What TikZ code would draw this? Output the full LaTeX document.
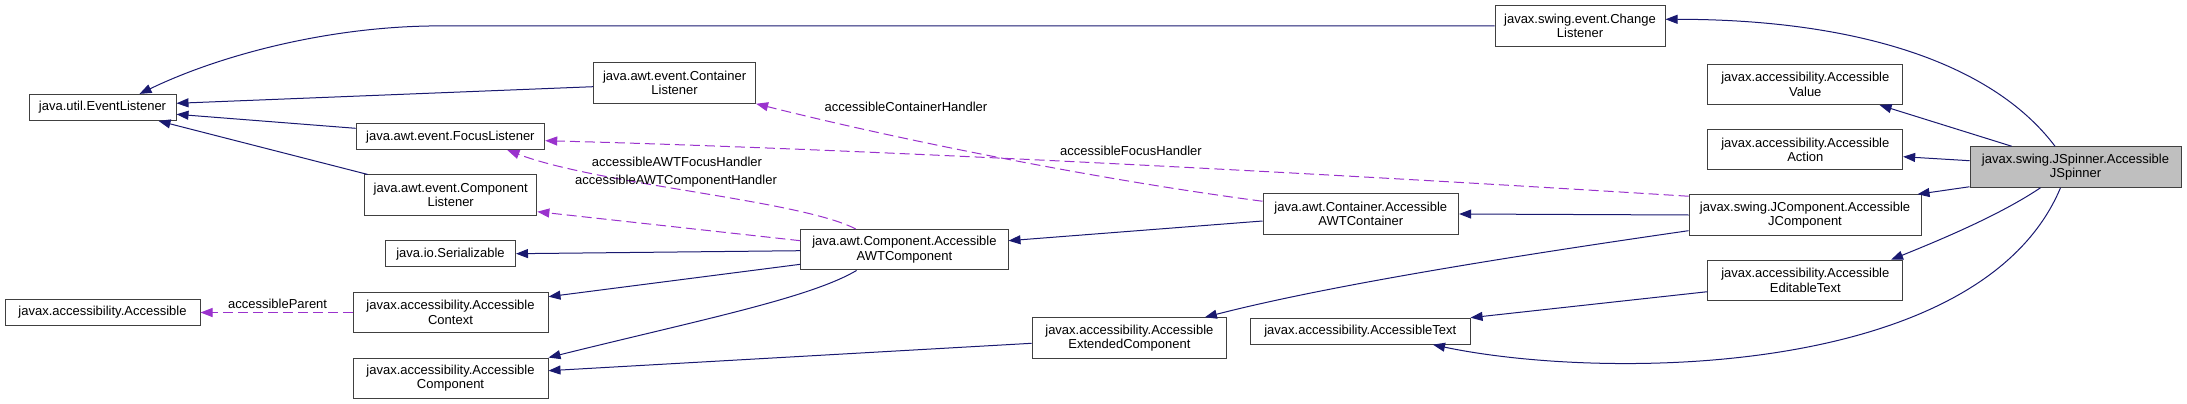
\documentclass[tikz,border=0pt]{standalone}
\usepackage{fontspec}
\setmainfont{Liberation Sans}
\usepackage{xcolor}
\usepackage{tikz}
\usetikzlibrary{arrows.meta}
\definecolor{edgeblue}{RGB}{25,25,112}
\definecolor{edgepurple}{RGB}{154,50,205}
\definecolor{spinnergray}{RGB}{191,191,191}
\definecolor{boxgray}{RGB}{64,64,64}

\begin{document}
\begin{tikzpicture}[x=1pt, y=-1pt, every node/.style={font=\fontsize{13}{14.3}\selectfont},
  cls/.style={rectangle, draw=boxgray, line width=1pt, fill=white, inner sep=0pt, align=center, minimum height=40.5pt},
  one/.style={minimum height=26pt},
  inh/.style={edgeblue, line width=1pt, -{Triangle[length=12pt,width=9pt]}},
  use/.style={edgepurple, line width=1pt, dash pattern=on 10pt off 5pt, -{Triangle[length=12pt,width=9pt]}},
  lbl/.style={inner sep=0pt}]
  \useasboundingbox (0,0) rectangle (2187,404);

  \node[cls, fill=spinnergray, minimum width=211pt] (spinner) at (2075.5,167) {javax.swing.JSpinner.Accessible\\JSpinner};
  \node[cls, minimum width=170pt] (changelis) at (1580,25.9) {javax.swing.event.Change\\Listener};
  \node[cls, minimum width=194.7pt] (accvalue) at (1805.3,84.3) {javax.accessibility.Accessible\\Value};
  \node[cls, minimum width=194.7pt] (accaction) at (1805.3,149.7) {javax.accessibility.Accessible\\Action};
  \node[cls, minimum width=232pt] (jcomp) at (1805,215) {javax.swing.JComponent.Accessible\\JComponent};
  \node[cls, minimum width=194.7pt] (edittext) at (1805.3,280.5) {javax.accessibility.Accessible\\EditableText};
  \node[cls, minimum width=195.6pt] (awtcont) at (1360.8,214) {java.awt.Container.Accessible\\AWTContainer};
  \node[cls, one, minimum width=219.5pt] (acctext) at (1360.3,331.2) {javax.accessibility.AccessibleText};
  \node[cls, minimum width=194.7pt] (extcomp) at (1129.4,338) {javax.accessibility.Accessible\\ExtendedComponent};
  \node[cls, minimum width=207.2pt] (awtcomp) at (904.4,249.7) {java.awt.Component.Accessible\\AWTComponent};
  \node[cls, minimum width=162pt] (contlis) at (674.6,83) {java.awt.event.Container\\Listener};
  \node[cls, one, minimum width=188.6pt] (focuslis) at (450.4,136.7) {java.awt.event.FocusListener};
  \node[cls, minimum width=172.3pt] (complis) at (450.7,195.2) {java.awt.event.Component\\Listener};
  \node[cls, one, minimum width=130pt] (serial) at (450.5,253.7) {java.io.Serializable};
  \node[cls, minimum width=195pt] (acccontext) at (450.5,312.5) {javax.accessibility.Accessible\\Context};
  \node[cls, minimum width=195pt] (acccomp) at (450.5,378.3) {javax.accessibility.Accessible\\Component};
  \node[cls, one, minimum width=147pt] (eventlis) at (102.5,107.4) {java.util.EventListener};
  \node[cls, one, minimum width=195pt] (accessible) at (102.5,312.5) {javax.accessibility.Accessible};

  % inheritance
  \draw[inh] ([xshift=-20.5pt]spinner.north) .. controls (1990,60) and (1850,19.3) .. ([yshift=6.6pt]changelis.east);
  \draw[inh] (changelis.west) -- (440,25.9) .. controls (330,25.9) and (220,55) .. ([xshift=37pt]eventlis.north);
  \draw[inh] ([yshift=-3.7pt]contlis.west) -- ([yshift=4.1pt]eventlis.east);
  \draw[inh] ([yshift=8.4pt]focuslis.west) -- ([yshift=-6.9pt]eventlis.east);
  \draw[inh] ([xshift=-83pt]complis.north) -- ([xshift=56pt]eventlis.south);
  \draw[inh] ([yshift=-1pt]awtcomp.west) -- (serial.east);
  \draw[inh] ([yshift=-14.6pt]awtcomp.west) -- ([yshift=15.8pt]acccontext.east);
  \draw[inh] ([xshift=-47.8pt]awtcomp.south) .. controls (810,298) and (700,320) .. (acccomp.north east);
  \draw[inh] ([yshift=-5.3pt]extcomp.west) -- ([yshift=7.6pt]acccomp.east);
  \draw[inh] ([yshift=-7pt]awtcont.west) -- ([yshift=9pt]awtcomp.east);
  \draw[inh] (jcomp.west) -- (awtcont.east);
  \draw[inh] ([yshift=-15.7pt]jcomp.west) .. controls (1520,255) and (1330,285) .. ([xshift=75.5pt]extcomp.north);
  \draw[inh] ([xshift=-63.8pt]spinner.north) -- ([xshift=74.3pt]accvalue.south);
  \draw[inh] ([yshift=6.3pt]spinner.west) -- ([yshift=-7pt]accaction.east);
  \draw[inh] ([yshift=1pt]spinner.south west) -- ([xshift=-4pt]jcomp.north east);
  \draw[inh] ([xshift=-35pt]spinner.south) .. controls (2000,215) and (1940,240) .. ([xshift=85.7pt]edittext.north);
  \draw[inh] ([yshift=-11.2pt]edittext.west) -- (acctext.north east);
  \draw[inh] ([xshift=-15pt]spinner.south) .. controls (1980,380) and (1600,380) .. ([xshift=72.7pt]acctext.south);

  % usage
  \draw[use] ([yshift=-8pt]awtcont.north west) .. controls (1100,180) and (900,140) .. (contlis.south east);
  \draw[use] ([yshift=-2pt]jcomp.north west) .. controls (1400,178) and (900,150) .. ([yshift=-4pt]focuslis.east);
  \draw[use] ([xshift=-48.7pt]awtcomp.north) .. controls (800,200) and (600,185) .. ([xshift=57pt]focuslis.south);
  \draw[use] ([yshift=9pt]awtcomp.west) -- ([yshift=-16.5pt]complis.east);
  \draw[use] (acccontext.west) -- (accessible.east);

  \node[lbl] (lcont) at (906,106.7) {accessibleContainerHandler};
  \node[lbl] (lfocus) at (1131,150.7) {accessibleFocusHandler};
  \node[lbl] (lawtfocus) at (677,162) {accessibleAWTFocusHandler};
  \node[lbl] (lawtcomp) at (676,181) {accessibleAWTComponentHandler};
  \node[lbl] (lparent) at (277.6,304.3) {accessibleParent};
\end{tikzpicture}
\end{document}
